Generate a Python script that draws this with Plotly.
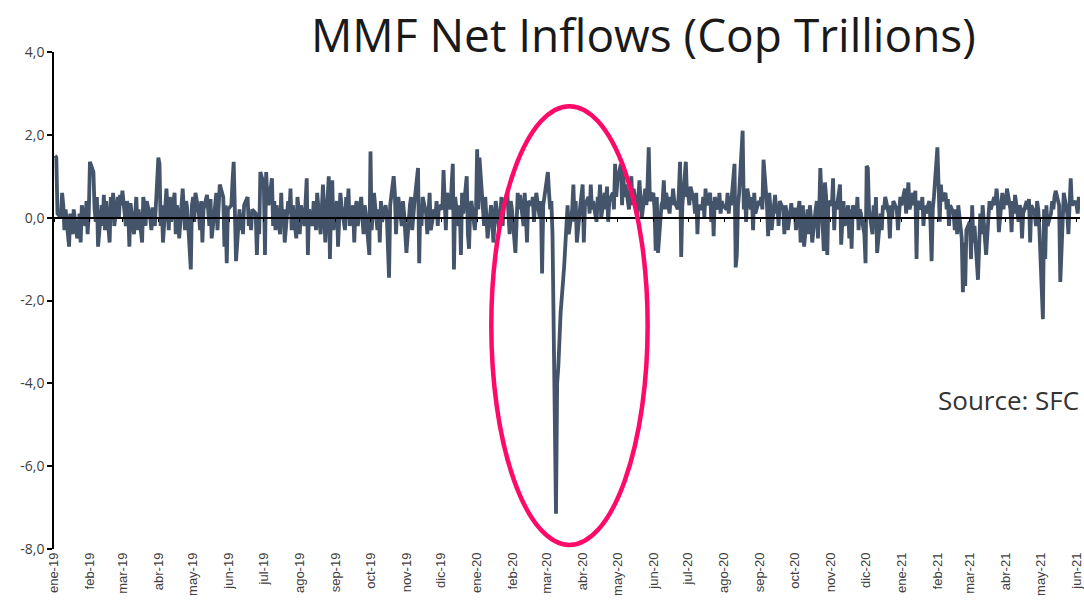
import pandas as pd
import plotly.graph_objects as go

# Daily (business-day) net inflows, COP trillions
v2019 = [
    1.5, 1.45, 0.1, 0.0, 0.6, 0.3, -0.3, 0.2, -0.7, 0.1, -0.2, -0.4, 0.2, -0.5, -0.3, 0.1, -0.6, 0.3, -0.2, 0.4, -0.4, 0.1,
    1.35, 1.1, 0.2, -0.1, 0.5, -0.7, 0.3, -0.2, 0.55, -0.3, 0.4, -0.6, 0.5, 0.1, 0.6, -0.2, 0.5, 0.0, 0.55, 0.3,
    0.65, -0.2, 0.4, 0.2, -0.7, 0.35, -0.4, 0.1, 0.5, -0.3, 0.2, -0.6, 0.5, 0.3, -0.2, 0.4, 0.0, -0.3, 0.25, 0.1, -0.2,
    1.45, 1.3, -0.2, 0.3, -0.6, 0.7, 0.2, -0.3, 0.5, -0.1, 0.6, -0.4, 0.3, 0.1, -0.5, 0.7, 0.2, -0.3, 0.4, 0.2, -1.25, 0.3,
    0.5, -0.1, 0.6, 0.1, -0.3, 0.4, -0.6, 0.2, 0.55, 0.0, -0.2, 0.45, -0.5, 0.3, 0.6, -0.3, 0.2, 0.8, 0.5, -0.7, 0.3, -1.1, 0.2,
    0.3, 0.9, 1.35, 0.2, -1.05, 0.2, -0.3, 0.1, -0.4, 0.3, 0.5, -0.2, 0.0, -0.3, 0.2, 0.1, -0.9, 0.0, -0.4, 1.1,
    0.8, -0.9, 1.1, 0.5, 0.3, 0.95, -0.2, 0.4, -0.3, 0.3, -0.4, 0.6, -0.2, 0.2, -0.6, 0.4, 0.1, 0.7, -0.3, 0.3, -0.5, 0.5, 0.2,
    -0.4, 0.3, -0.2, 0.6, 0.95, -0.9, 0.2, -0.2, 0.4, 0.1, -0.3, 0.6, -0.4, 0.2, 0.8, 0.2, -0.6, 1.0, -1.0, 0.3, 0.9, -0.3,
    0.4, -0.7, 0.2, 0.6, 0.3, -0.3, 0.5, 0.1, 0.7, -0.2, 0.3, -0.6, 0.2, 0.4, -0.2, 0.5, 0.0, -0.4, 0.3, 0.1, -0.9,
    1.6, -0.3, 0.3, 0.6, -0.3, 0.2, -0.6, 0.4, -0.1, 0.3, 0.1, -0.5, -1.45, 0.3, 1.0, 0.6, -0.4, 0.2, 0.5, -0.2, 0.4, 0.1, -0.3,
    -0.85, 0.3, 0.5, -0.3, 0.2, 0.4, 1.2, -1.1, 0.3, -0.2, 0.5, 0.1, -0.4, 0.3, 0.6, -0.3, 0.2, 0.0, 0.4, -0.2, 0.3,
    0.2, 1.15, 0.4, -0.3, 0.6, 0.2, 0.8, 1.3, -1.25, 0.5, -0.2, 0.3, -0.9, 0.6, 0.1, 1.0, -0.4, -0.75, 0.2, 0.4, -0.3, 0.1,
]
v2020 = [
    1.65, 0.2, 1.45, 0.3, -0.2, 0.5, 0.1, -0.5, 0.3, 0.0, -0.6, 0.2, 0.4, -0.3, 0.1, 0.5, -0.2, 0.3, 0.6, 0.1, -0.4, 0.4, 0.2,
    -0.85, 0.3, 0.6, 0.2, 0.55, -0.2, 0.6, 0.1, -0.6, 0.4, 0.3, 0.5, -0.1, 0.3, 0.6, 0.0, 0.4, -1.35, 0.3, 0.5,
    1.1, 0.6, 0.2, 0.4, -0.4, -7.15, -4.0, -3.6, -2.6, -2.3, -1.2, -0.6, -0.1, 0.3, -0.4, 0.2, 0.8, -0.1, 0.4, -0.6, 0.3, 0.7,
    0.8, -0.6, 0.3, 0.5, 0.1, 0.8, 0.2, 0.4, -0.1, 0.5, 0.3, 0.8, 0.0, 0.6, 0.2, 0.75, -0.1, 0.4, 0.6, 0.2, 1.3, 0.5,
    0.9, 1.3, 0.3, 1.1, 0.5, 0.8, 0.2, 0.6, 1.0, 0.3, 0.7, 0.1, 0.5, 0.9, 0.4, 0.0, 0.7, 0.3, 0.8, 1.7, 0.4,
    0.6, 0.2, -0.8, 0.5, -0.85, 0.3, 0.4, 0.9, 0.2, 0.6, 0.1, 0.5, 0.3, 0.7, 0.4, 0.2, 0.6, 1.35, -0.95, 0.3, 1.35, 0.5,
    0.6, 0.3, 0.75, 0.4, 0.1, 0.6, -0.4, 0.3, 0.2, 0.5, 0.0, 0.7, 0.3, 0.6, -0.1, 0.4, -0.45, 0.5, 0.2, 0.6, 0.1, 0.4, 0.3,
    0.2, 0.6, 0.1, 0.5, 0.3, 1.3, -1.2, -0.9, 0.3, 0.6, 2.1, 0.2, 0.6, -0.1, 0.7, 0.2, 0.5, -0.3, 0.6, 0.1, 0.4,
    0.3, 0.5, 0.2, 1.4, 0.3, -0.45, 0.6, 0.2, -0.3, 0.55, 0.1, 0.3, -0.2, 0.4, 0.2, -0.4, 0.3, 0.1, -0.3, 0.35, 0.0, 0.2,
    0.2, -0.3, 0.4, -0.6, 0.1, 0.3, -0.7, 0.2, -0.4, 0.3, 0.0, -0.6, 0.2, 0.4, -0.5, 0.1, 1.2, -0.8, 0.85, 0.5, -0.9, 0.4,
    0.3, 0.95, -0.3, 0.4, 0.2, 0.8, -0.65, 0.1, 0.4, -0.2, 0.3, -0.5, 0.2, -0.75, 0.3, 0.0, 0.5, -0.3, 0.2, 0.1, -0.4,
    -1.1, 1.25, 1.2, 0.2, -0.4, 0.3, -0.2, 0.5, -0.85, 0.1, -0.3, 0.3, 0.2, 0.5, 0.1, -0.5, 0.3, 0.0, 0.4, 0.2, -0.3, 0.3, 0.5,
]
v2021 = [
    0.3, 0.7, 0.1, 0.5, 0.85, 0.2, 0.6, 0.3, 0.65, -1.0, 0.4, 0.2, 0.5, -0.2, 0.3, 0.1, 0.4, -0.1, -1.05, 0.2, 0.5,
    1.7, 0.3, -0.1, 0.8, 0.4, 0.6, 0.2, 0.45, -0.2, 0.3, 0.1, -0.3, 0.2, -0.4, 0.3, -0.5, -1.8, -0.6, -1.65, -0.3,
    -0.1, -1.0, 0.3, -0.6, -0.2, -1.5, -0.8, 0.1, -0.4, 0.3, -0.9, -0.3, 0.0, 0.4, 0.2, 0.5, 0.3, 0.7, 0.4, -0.35, 0.6, 0.2, 0.55,
    0.3, 0.7, 0.2, -0.35, 0.4, 0.1, 0.55, -0.1, 0.3, 0.2, -0.5, 0.1, 0.4, 0.2, 0.45, -0.6, 0.3, 0.1, -0.2, 0.4, 0.2, -0.3,
    -2.45, 0.2, -1.0, 0.3, -0.2, 0.1, 0.4, 0.2, 0.5, 0.65, 0.3, -1.55, -0.85, 0.2, 0.6, 0.1, -0.4, 0.3, 0.95, 0.3, 0.4,
    0.3, 0.1, 0.5, 0.2,
]

month_starts = pd.date_range("2019-01-01", "2021-06-01", freq="MS")
month_abbr = ["ene", "feb", "mar", "abr", "may", "jun", "jul", "ago", "sep", "oct", "nov", "dic"]
tick_labels = [f"{month_abbr[d.month - 1]}-{str(d.year)[2:]}" for d in month_starts]

y_ticks = [-8, -6, -4, -2, 0, 2, 4]
y_tick_labels = ["-8,0", "-6,0", "-4,0", "-2,0", "0,0", "2,0", "4,0"]

dates = (list(pd.bdate_range("2019-01-02", periods=len(v2019)))
         + list(pd.bdate_range("2020-01-01", periods=len(v2020)))
         + list(pd.bdate_range("2021-01-01", periods=len(v2021))))
values = v2019 + v2020 + v2021

fig = go.Figure()
fig.add_trace(go.Scatter(
    x=dates, y=values, mode="lines",
    line=dict(color="#44546A", width=3.8),
    showlegend=False, hoverinfo="skip",
))
# helper trace to carry the zero-line axis with monthly ticks
fig.add_trace(go.Scatter(
    x=[dates[0]], y=[0], mode="lines", xaxis="x2",
    line=dict(color="rgba(0,0,0,0)"), showlegend=False, hoverinfo="skip",
))

x_range = ["2019-01-01", "2021-06-04"]
fig.update_layout(
    width=1092, height=604,
    margin=dict(l=54, r=8, t=52, b=55),
    paper_bgcolor="white", plot_bgcolor="white",
    xaxis=dict(
        type="date", range=x_range,
        tickmode="array", tickvals=month_starts, ticktext=tick_labels,
        tickangle=-90, showline=False, showgrid=False, zeroline=False, ticks="",
        tickfont=dict(family="Liberation Sans", size=13, color="#404040"),
    ),
    xaxis2=dict(
        type="date", range=x_range, overlaying="x", anchor="free",
        position=8 / 12, side="bottom",
        tickmode="array", tickvals=month_starts, showticklabels=False,
        showline=True, linecolor="black", linewidth=1.5,
        ticks="outside", ticklen=4, tickwidth=1.2, tickcolor="black",
        showgrid=False, zeroline=False,
    ),
    yaxis=dict(
        range=[-8, 4], domain=[0, 1],
        tickmode="array", tickvals=y_ticks, ticktext=y_tick_labels,
        showline=True, linecolor="black", linewidth=1.5,
        ticks="outside", ticklen=5, tickwidth=1.5, tickcolor="black",
        showgrid=False, zeroline=False,
        tickfont=dict(family="Open Sans", size=14, color="#404040"),
    ),
    shapes=[dict(
        type="circle", xref="paper", yref="paper",
        x0=0.4262, x1=0.5786, y0=0.008, y1=0.891,
        line=dict(color="#FF0A68", width=4.5),
    )],
    annotations=[
        dict(text="MMF Net Inflows (Cop Trillions)", xref="paper", yref="paper",
             x=0.575, y=1.036, xanchor="center", yanchor="middle", showarrow=False,
             font=dict(family="Open Sans", size=46, color="#1a1a1a")),
        dict(text="Source: SFC", xref="paper", yref="paper",
             x=0.860, y=0.30, xanchor="left", yanchor="middle", showarrow=False,
             font=dict(family="Open Sans", size=26, color="#333333")),
    ],
)

# remove the default 8px page margin so the figure sits at the window's corner
fig.write_html("out.html", config={"displayModeBar": False},
               post_script="document.body.style.margin='0px';")
